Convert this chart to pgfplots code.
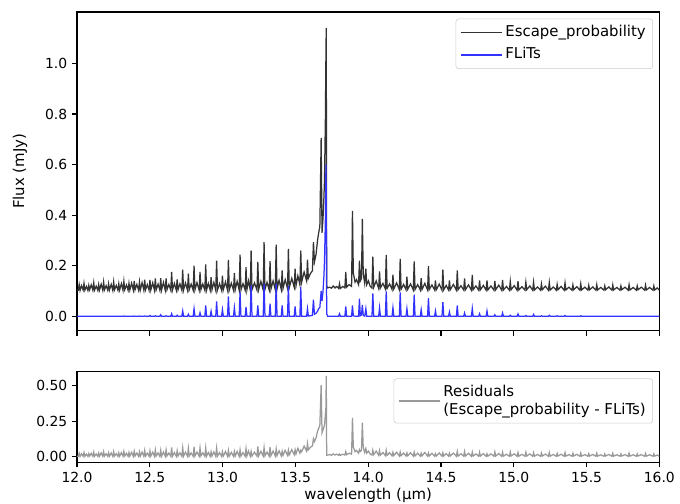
\documentclass[border=0pt]{standalone}
\usepackage{fontspec}
\setmainfont{DejaVu Sans}
\usepackage{pgfplots}
\usepackage{pgfplotstable}
\pgfplotsset{compat=1.18}
\definecolor{ep}{RGB}{51,51,51}
\definecolor{fl}{RGB}{51,51,255}
\definecolor{rs}{RGB}{153,153,153}
\pgfplotstableread{
x blue black res
12.000 0 0.104 0.004
12.009 0 0.103 0.003
12.015 0 0.125 0.025
12.021 0 0.102 0.002
12.031 0 0.121 0.021
12.042 0 0.104 0.004
12.048 0 0.130 0.030
12.054 0 0.103 0.003
12.065 0 0.118 0.018
12.075 0 0.102 0.002
12.081 0 0.122 0.022
12.087 0 0.105 0.005
12.098 0 0.124 0.024
12.109 0 0.103 0.003
12.115 0 0.132 0.032
12.121 0 0.104 0.004
12.132 0 0.119 0.019
12.143 0 0.102 0.002
12.149 0 0.125 0.025
12.155 0 0.104 0.004
12.166 0 0.127 0.027
12.177 0 0.103 0.003
12.183 0 0.135 0.035
12.189 0 0.105 0.005
12.200 0 0.121 0.021
12.211 0 0.103 0.003
12.217 0 0.128 0.028
12.223 0 0.104 0.004
12.235 0 0.126 0.026
12.246 0 0.102 0.002
12.252 0 0.136 0.036
12.258 0 0.105 0.005
12.270 0 0.122 0.022
12.281 0 0.103 0.003
12.287 0 0.128 0.028
12.293 0 0.104 0.004
12.305 0 0.129 0.029
12.316 0 0.103 0.003
12.322 0.001 0.138 0.037
12.328 0 0.105 0.005
12.340 0 0.124 0.024
12.351 0 0.103 0.003
12.357 0 0.130 0.030
12.363 0 0.104 0.004
12.375 0 0.131 0.031
12.387 0 0.103 0.003
12.393 0.001 0.140 0.039
12.399 0 0.105 0.005
12.411 0 0.126 0.026
12.423 0 0.103 0.003
12.429 0.001 0.135 0.034
12.435 0 0.104 0.004
12.447 0 0.133 0.033
12.459 0 0.103 0.003
12.465 0.001 0.145 0.044
12.471 0 0.105 0.005
12.483 0 0.125 0.025
12.495 0 0.103 0.003
12.501 0.003 0.144 0.041
12.507 0 0.104 0.004
12.520 0 0.132 0.032
12.532 0 0.103 0.003
12.538 0.002 0.150 0.048
12.544 0 0.105 0.005
12.557 0 0.127 0.027
12.569 0 0.103 0.003
12.575 0.006 0.151 0.045
12.581 0 0.104 0.004
12.594 0 0.134 0.034
12.606 0 0.103 0.003
12.612 0.002 0.150 0.048
12.618 0 0.105 0.005
12.631 0 0.126 0.026
12.644 0 0.103 0.003
12.650 0.010 0.175 0.065
12.656 0 0.104 0.004
12.669 0 0.130 0.030
12.682 0 0.103 0.003
12.688 0.004 0.146 0.042
12.694 0 0.105 0.005
12.707 0 0.128 0.028
12.720 0 0.103 0.003
12.726 0.021 0.184 0.063
12.732 0 0.104 0.004
12.745 0 0.132 0.032
12.759 0 0.103 0.003
12.765 0.008 0.168 0.060
12.771 0 0.105 0.005
12.784 0 0.127 0.027
12.798 0 0.103 0.003
12.804 0.030 0.200 0.070
12.810 0 0.104 0.004
12.824 0 0.133 0.033
12.839 0 0.103 0.003
12.845 0.014 0.175 0.061
12.851 0 0.105 0.005
12.864 0 0.128 0.028
12.878 0 0.103 0.003
12.884 0.043 0.205 0.062
12.890 0 0.104 0.004
12.902 0 0.130 0.030
12.915 0 0.103 0.003
12.921 0.020 0.155 0.035
12.927 0 0.105 0.005
12.940 0 0.134 0.034
12.953 0 0.103 0.003
12.959 0.059 0.220 0.061
12.965 0 0.104 0.004
12.979 0 0.129 0.029
12.993 0 0.103 0.003
12.999 0.026 0.161 0.035
13.005 0 0.105 0.005
13.020 0 0.136 0.036
13.034 0 0.103 0.003
13.040 0.079 0.223 0.044
13.046 0 0.104 0.004
13.060 0 0.131 0.031
13.075 0 0.103 0.003
13.081 0.034 0.171 0.037
13.087 0 0.105 0.005
13.100 0 0.138 0.038
13.114 0 0.103 0.003
13.120 0.096 0.244 0.048
13.126 0 0.104 0.004
13.140 0 0.129 0.029
13.155 0 0.103 0.003
13.161 0.037 0.194 0.057
13.167 0 0.105 0.005
13.178 0 0.140 0.040
13.190 0 0.104 0.004
13.196 0.122 0.260 0.038
13.202 0 0.105 0.005
13.219 0 0.132 0.032
13.236 0 0.104 0.004
13.242 0.043 0.215 0.072
13.248 0 0.106 0.006
13.263 0 0.138 0.038
13.279 0 0.104 0.004
13.285 0.129 0.293 0.064
13.291 0 0.106 0.006
13.305 0 0.134 0.034
13.320 0 0.104 0.004
13.326 0.050 0.218 0.068
13.332 0 0.107 0.007
13.347 0 0.140 0.040
13.362 0 0.105 0.005
13.368 0.129 0.283 0.054
13.374 0 0.108 0.008
13.388 0 0.142 0.042
13.403 0 0.106 0.006
13.409 0.043 0.181 0.038
13.415 0 0.110 0.010
13.430 0 0.145 0.045
13.446 0 0.110 0.010
13.452 0.120 0.266 0.046
13.458 0 0.113 0.013
13.475 0 0.150 0.050
13.492 0 0.115 0.015
13.498 0.039 0.188 0.049
13.504 0 0.120 0.020
13.517 0 0.160 0.060
13.531 0 0.125 0.025
13.537 0.115 0.260 0.045
13.543 0 0.135 0.035
13.560 0 0.175 0.075
13.577 0 0.140 0.040
13.583 0.030 0.224 0.094
13.589 0.001 0.150 0.049
13.604 0.002 0.170 0.068
13.617 0.004 0.180 0.076
13.624 0.066 0.293 0.127
13.631 0.008 0.215 0.107
13.642 0.012 0.245 0.133
13.652 0.020 0.300 0.180
13.660 0.030 0.330 0.200
13.668 0.035 0.355 0.220
13.677 0.100 0.705 0.505
13.683 0.060 0.330 0.170
13.690 0.100 0.390 0.190
13.696 0.160 0.470 0.210
13.700 0.220 0.540 0.220
13.706 0.380 0.780 0.300
13.710 0.600 1.050 0.350
13.712 0.470 1.140 0.570
13.715 0.010 0.120 0.010
13.722 0 0.112 0.012
13.735 0 0.115 0.015
13.748 0 0.111 0.011
13.760 0 0.120 0.020
13.772 0 0.112 0.012
13.784 0 0.118 0.018
13.797 0 0.110 0.010
13.803 0.010 0.129 0.019
13.809 0 0.110 0.010
13.826 0 0.118 0.018
13.840 0 0.112 0.012
13.846 0.039 0.175 0.036
13.852 0 0.115 0.015
13.869 0 0.125 0.025
13.886 0 0.118 0.018
13.892 0.043 0.417 0.274
13.898 0.002 0.170 0.068
13.910 0 0.135 0.035
13.920 0 0.145 0.045
13.934 0 0.125 0.025
13.940 0.070 0.220 0.050
13.946 0.002 0.140 0.038
13.954 0.005 0.150 0.045
13.960 0.045 0.385 0.240
13.966 0.004 0.170 0.066
13.976 0 0.130 0.030
13.984 0.030 0.188 0.058
13.990 0 0.125 0.025
14.002 0 0.140 0.040
14.014 0 0.118 0.018
14.026 0 0.112 0.012
14.032 0.090 0.236 0.046
14.038 0 0.115 0.015
14.055 0 0.140 0.040
14.072 0 0.110 0.010
14.078 0.034 0.177 0.043
14.084 0 0.112 0.012
14.101 0 0.130 0.030
14.118 0 0.108 0.008
14.124 0.098 0.243 0.045
14.130 0 0.110 0.010
14.147 0 0.128 0.028
14.164 0 0.106 0.006
14.170 0.034 0.165 0.031
14.176 0 0.108 0.008
14.195 0 0.132 0.032
14.214 0 0.105 0.005
14.220 0.094 0.227 0.033
14.226 0 0.107 0.007
14.243 0 0.126 0.026
14.260 0 0.105 0.005
14.266 0.030 0.157 0.027
14.272 0 0.107 0.007
14.291 0 0.128 0.028
14.310 0 0.104 0.004
14.316 0.085 0.217 0.032
14.322 0 0.106 0.006
14.340 0 0.125 0.025
14.358 0 0.104 0.004
14.364 0.026 0.151 0.025
14.370 0 0.106 0.006
14.389 0 0.130 0.030
14.408 0 0.104 0.004
14.414 0.072 0.198 0.026
14.420 0 0.106 0.006
14.438 0 0.124 0.024
14.456 0 0.104 0.004
14.462 0.021 0.142 0.021
14.468 0 0.105 0.005
14.488 0 0.127 0.027
14.507 0 0.103 0.003
14.513 0.056 0.184 0.028
14.519 0 0.105 0.005
14.536 0 0.122 0.022
14.552 0 0.104 0.004
14.558 0.017 0.142 0.025
14.564 0 0.105 0.005
14.585 0 0.126 0.026
14.606 0 0.103 0.003
14.612 0.043 0.181 0.038
14.618 0 0.105 0.005
14.637 0 0.121 0.021
14.656 0 0.104 0.004
14.662 0.013 0.150 0.037
14.668 0 0.105 0.005
14.689 0 0.124 0.024
14.709 0 0.103 0.003
14.715 0.031 0.164 0.033
14.721 0 0.105 0.005
14.740 0 0.120 0.020
14.759 0 0.103 0.003
14.765 0.010 0.142 0.032
14.771 0 0.105 0.005
14.791 0 0.122 0.022
14.810 0 0.103 0.003
14.816 0.021 0.142 0.021
14.822 0 0.104 0.004
14.843 0 0.120 0.020
14.864 0 0.103 0.003
14.870 0.006 0.140 0.034
14.876 0 0.105 0.005
14.897 0 0.123 0.023
14.917 0 0.103 0.003
14.923 0.013 0.144 0.031
14.929 0 0.104 0.004
14.950 0 0.118 0.018
14.970 0 0.103 0.003
14.976 0.004 0.138 0.034
14.982 0 0.105 0.005
15.003 0 0.121 0.021
15.023 0 0.103 0.003
15.029 0.009 0.139 0.030
15.035 0 0.104 0.004
15.056 0 0.117 0.017
15.077 0 0.103 0.003
15.083 0.003 0.135 0.032
15.089 0 0.105 0.005
15.110 0 0.120 0.020
15.130 0 0.103 0.003
15.136 0.007 0.135 0.028
15.142 0 0.104 0.004
15.163 0 0.116 0.016
15.184 0 0.103 0.003
15.190 0.002 0.128 0.026
15.196 0 0.105 0.005
15.217 0 0.119 0.019
15.238 0 0.103 0.003
15.244 0.004 0.134 0.030
15.250 0 0.104 0.004
15.271 0 0.116 0.016
15.292 0 0.103 0.003
15.298 0.002 0.126 0.024
15.304 0 0.105 0.005
15.325 0 0.118 0.018
15.346 0 0.103 0.003
15.352 0.003 0.132 0.029
15.358 0 0.104 0.004
15.379 0 0.115 0.015
15.400 0 0.103 0.003
15.406 0 0.124 0.024
15.412 0 0.105 0.005
15.433 0 0.117 0.017
15.454 0 0.103 0.003
15.460 0.002 0.128 0.026
15.466 0 0.104 0.004
15.488 0 0.115 0.015
15.509 0 0.103 0.003
15.515 0 0.122 0.022
15.521 0 0.105 0.005
15.543 0 0.116 0.016
15.564 0 0.103 0.003
15.570 0 0.125 0.025
15.576 0 0.104 0.004
15.598 0 0.114 0.014
15.619 0 0.103 0.003
15.625 0 0.120 0.020
15.631 0 0.105 0.005
15.653 0 0.116 0.016
15.674 0 0.103 0.003
15.680 0 0.124 0.024
15.686 0 0.104 0.004
15.708 0 0.114 0.014
15.730 0 0.103 0.003
15.736 0 0.120 0.020
15.742 0 0.105 0.005
15.764 0 0.115 0.015
15.786 0 0.103 0.003
15.792 0 0.125 0.025
15.798 0 0.104 0.004
15.820 0 0.114 0.014
15.842 0 0.103 0.003
15.848 0 0.120 0.020
15.854 0 0.105 0.005
15.876 0 0.115 0.015
15.899 0 0.103 0.003
15.905 0 0.123 0.023
15.911 0 0.104 0.004
15.933 0 0.114 0.014
15.956 0 0.103 0.003
15.962 0 0.120 0.020
15.968 0 0.104 0.004
15.985 0 0.112 0.012
16.000 0 0.103 0.003
}\spec

\begin{document}
\begin{tikzpicture}
\pgfplotsset{
  every axis/.append style={
    scale only axis, width=419.3pt, xmin=12, xmax=16,
    xtick={12,12.5,...,16}, tick pos=left,
    tick align=outside, major tick length=3.5pt,
    tick style={line width=0.8pt, black},
    axis line style={line width=0.8pt, black},
    /pgf/number format/assume math mode=true,
    tick label style={font=\fontsize{10}{12}\selectfont},
    label style={font=\fontsize{10.75}{12.9}\selectfont},
    x tick label style={/pgf/number format/.cd, fixed, fixed zerofill, precision=1},
    legend cell align=left,
    legend style={at={(1,1)}, anchor=north east, xshift=-4.6pt, yshift=-4.8pt,
      draw=black!20, rounded corners=2pt, fill=white, fill opacity=0.8, text opacity=1,
      font=\fontsize{10.75}{12.9}\selectfont, inner xsep=3pt, inner ysep=2.6pt,
      row sep=1.3pt, column sep=0pt,
      nodes={inner xsep=2pt, inner ysep=2pt, text depth=2.5pt}},
    legend image code/.code={\path (0pt,0pt) -- (29.7pt,0pt);
      \draw[line width=0.9pt,#1] (1pt,0pt) -- (23.3pt,0pt);},
  }
}
\begin{axis}[at={(0,0)}, anchor=north west, height=229.5pt,
  ymin=-0.0573, ymax=1.2033, ytick={0,0.2,0.4,0.6,0.8,1.0},
  y tick label style={/pgf/number format/.cd, fixed, fixed zerofill, precision=1},
  xticklabels={},
  ylabel={Flux (mJy)}, ylabel shift=6pt]
\addplot[ep, line width=0.9pt] table[x=x, y=black]{\spec};
\addlegendentry{Escape\_probability}
\addplot[fl, line width=0.9pt] table[x=x, y=blue]{\spec};
\addlegendentry{FLiTs}
\end{axis}
\begin{axis}[at={(0,-259pt)}, anchor=north west, height=65.2pt,
  ymin=-0.039, ymax=0.599, ytick={0,0.25,0.5},
  y tick label style={/pgf/number format/.cd, fixed, fixed zerofill, precision=2},
  xlabel={wavelength (µm)},
  xlabel style={at={(axis description cs:0.5,0)}, anchor=base, yshift=-26.8pt},
  legend style={inner ysep=1.8pt}]
\addplot[rs, line width=0.9pt] table[x=x, y=res]{\spec};
\addlegendentry{\begin{tabular}[b]{@{}l@{}}Residuals\\(Escape\_probability - FLiTs)\end{tabular}}
\end{axis}
\pgfresetboundingbox
\path[use as bounding box] (-55.44pt,8.64pt) rectangle (434.16pt,-354.24pt);
\end{tikzpicture}
\end{document}
